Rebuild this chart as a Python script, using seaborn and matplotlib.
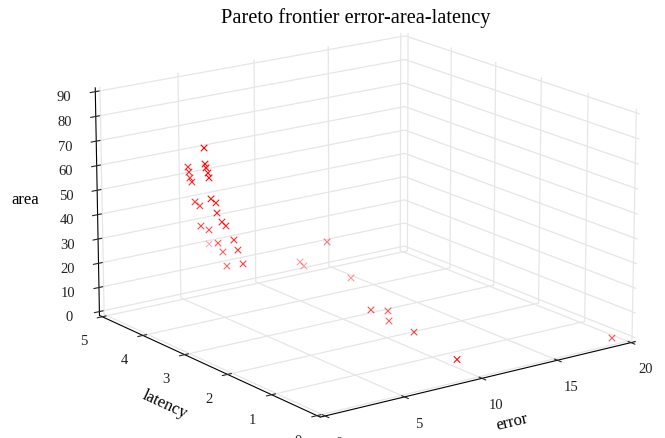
import matplotlib
matplotlib.use('Agg')
import matplotlib.pyplot as plt
import seaborn as sns

error = [1.08, 1.13, 1.19, 1.31, 1.37, 1.39, 1.45, 1.51, 1.63, 1.48, 1.79, 1.81, 2.12, 1.85, 2.16, 2.41, 2.17, 2.68,
         5.37, 3.25, 2.91, 3.16, 3.56, 3.48, 3.81, 8.95, 8.58, 8.84, 10.53, 8.94, 10.06, 10.13, 10.3, 10.42, 19.25]
latency = [3, 3, 3, 3, 3, 3.5, 3.5, 3.5, 3.5, 3, 3, 3.5, 3.5, 3, 3, 3, 3.5, 3.5,
           4.5, 3.5, 3, 3, 3.5, 3, 3.5, 3, 3.5, 3.5, 3, 2, 2, 2, 1.5, 0.6, 0.1]
area = [79.3, 72.9, 71.3, 69.1, 67.1, 68.0, 65.9, 63.5, 61.7, 58.6, 56.6, 53.5, 51.5, 52.5, 48.5, 46.6, 43.3, 41.1,
        24.6, 35.0, 40.3, 35.9, 31.0, 29.9, 24.9, 31.6, 20.2, 18.2, 14.7, 11.3, 9.3, 5.1, 4.2, 0.0, 0.0]

error_ticks = [0, 5, 10, 15, 20]
latency_ticks = [0, 1, 2, 3, 4, 5]
area_ticks = [0, 10, 20, 30, 40, 50, 60, 70, 80, 90]

sns.set_style('white')
plt.rcParams['font.family'] = ['Liberation Serif', 'DejaVu Serif']
plt.rcParams['text.color'] = 'black'
plt.rcParams['axes.labelcolor'] = 'black'

fig = plt.figure(figsize=(6.65, 4.39), dpi=100)
ax = fig.add_axes([0.018, -0.107, 1.04, 1.2], projection='3d')
ax.set_proj_type('persp', focal_length=1.5)
ax.view_init(elev=16.6, azim=-126.1)
ax.set_box_aspect((1, 1, 0.62), zoom=1.10)

ax.set_xlim(-0.3, 20.3)
ax.set_ylim(-0.07, 5.07)
ax.set_zlim(-1.6, 91.6)
ax.set_xticks(error_ticks)
ax.set_yticks(latency_ticks)
ax.set_zticks(area_ticks)

for axis in (ax.xaxis, ax.yaxis, ax.zaxis):
    axis.set_pane_color((1, 1, 1, 0))
    axis.pane.set_edgecolor('none')
    axis._axinfo['grid'].update(color='#e6e6e6', linewidth=0.9)
    axis.line.set_color('black')
    axis._axinfo['tick'].update(inward_factor=0.2, outward_factor=0.15)

ax.scatter(error, latency, area, c='red', marker='x', s=22, linewidths=0.8)

fig.text(0.535, 0.958, 'Pareto frontier error-area-latency', fontsize=14.7, ha='center', va='center')
ax.set_xlabel('error', fontsize=12)
ax.set_ylabel('latency', fontsize=12)
ax.set_zlabel('area', fontsize=12, labelpad=6)
ax.tick_params(labelsize=10.5, labelcolor='#222222')

fig.savefig('out.png', dpi=100)
